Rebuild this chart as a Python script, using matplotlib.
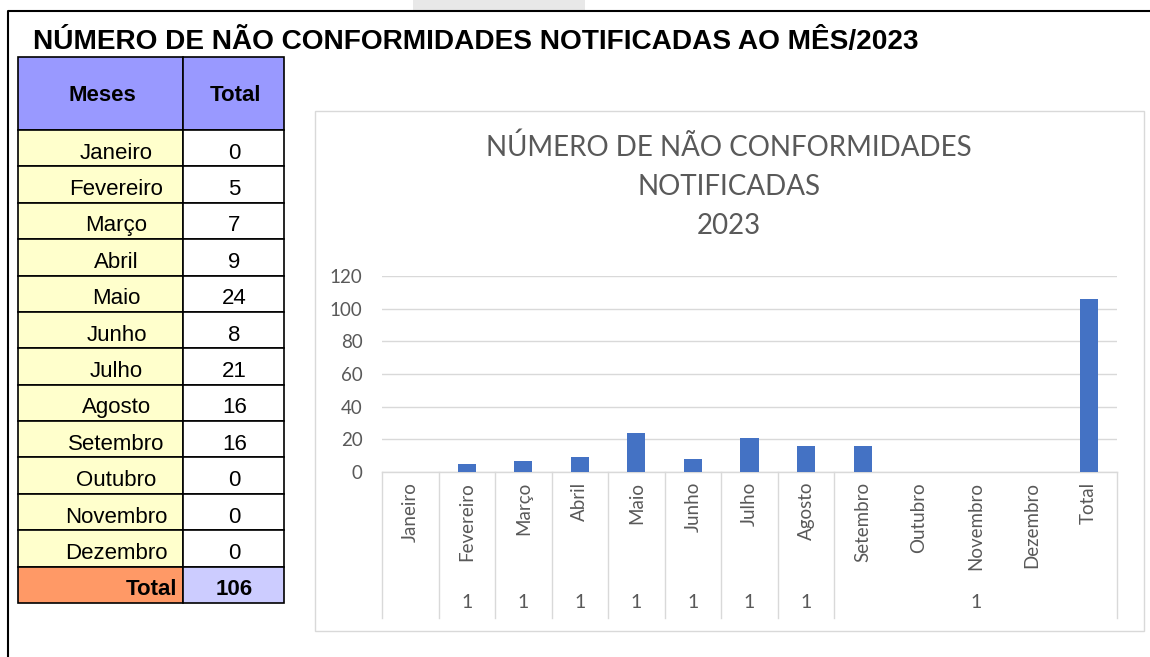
import matplotlib.pyplot as plt
from matplotlib.patches import Rectangle

# dados
meses = ["Janeiro", "Fevereiro", "Março", "Abril", "Maio", "Junho", "Julho",
         "Agosto", "Setembro", "Outubro", "Novembro", "Dezembro"]
totais = [0, 5, 7, 9, 24, 8, 21, 16, 16, 0, 0, 0]
total_geral = 106
categorias = meses + ["Total"]
valores = totais + [total_geral]
# rótulos do segundo nível do eixo (grupo, primeira categoria, última categoria)
grupos = [("", 0, 0), ("1", 1, 1), ("1", 2, 2), ("1", 3, 3), ("1", 4, 4),
          ("1", 5, 5), ("1", 6, 6), ("1", 7, 7), ("1", 8, 12)]
yticks = [0, 20, 40, 60, 80, 100, 120]

W, H = 1150, 657
fig = plt.figure(figsize=(W / 100, H / 100), dpi=100)

# fundo em coordenadas de pixel
bg = fig.add_axes([0, 0, 1, 1])
bg.set_xlim(0, W)
bg.set_ylim(H, 0)
bg.axis("off")

bg.add_patch(Rectangle((413, 0), 172, 11, color="#E8E8E8", lw=0))
bg.plot([8, 8, W], [H, 11, 11], color="black", lw=1.5)

bg.text(33, 42, "NÚMERO DE NÃO CONFORMIDADES NOTIFICADAS AO MÊS/2023",
        family="Liberation Sans", weight="bold", fontsize=20.2, va="center")

# tabela
x0, x1, x2 = 18, 183, 284
hy0, hy1 = 57, 130
rh = (603 - 130) / 13
fs = 16
bg.add_patch(Rectangle((x0, hy0), x1 - x0, hy1 - hy0, fc="#9999FF", ec="black", lw=1.2))
bg.add_patch(Rectangle((x1, hy0), x2 - x1, hy1 - hy0, fc="#9999FF", ec="black", lw=1.2))
bg.text((x0 + x1) / 2 + 2, (hy0 + hy1) / 2 + 2, "Meses", family="Liberation Sans",
        weight="bold", fontsize=fs, ha="center", va="center")
bg.text((x1 + x2) / 2 + 2, (hy0 + hy1) / 2 + 2, "Total", family="Liberation Sans",
        weight="bold", fontsize=fs, ha="center", va="center")

for i, (m, v) in enumerate(zip(meses, totais)):
    y = hy1 + i * rh
    bg.add_patch(Rectangle((x0, y), x1 - x0, rh, fc="#FFFFCC", ec="black", lw=1.2))
    bg.add_patch(Rectangle((x1, y), x2 - x1, rh, fc="white", ec="black", lw=1.2))
    bg.text((x0 + x1) / 2 + 16, y + rh / 2 + 5, m, family="Liberation Sans",
            fontsize=fs, ha="center", va="center")
    bg.text((x1 + x2) / 2 + 1, y + rh / 2 + 5, str(v), family="Liberation Sans",
            fontsize=fs, ha="center", va="center")

y = hy1 + 12 * rh
bg.add_patch(Rectangle((x0, y), x1 - x0, rh, fc="#FF9966", ec="black", lw=1.2))
bg.add_patch(Rectangle((x1, y), x2 - x1, rh, fc="#CCCCFF", ec="black", lw=1.2))
bg.text(x1 - 6, y + rh / 2 + 5, "Total", family="Liberation Sans", weight="bold",
        fontsize=fs, ha="right", va="center")
bg.text((x1 + x2) / 2 + 1, y + rh / 2 + 5, str(total_geral), family="Liberation Sans",
        weight="bold", fontsize=fs, ha="center", va="center")

# moldura do gráfico
bg.add_patch(Rectangle((315, 111), 1144 - 315, 631 - 111, fc="white", ec="#D9D9D9", lw=1))
cinza = "#595959"
for yy, t in [(147, "NÚMERO DE NÃO CONFORMIDADES"), (187, "NOTIFICADAS"), (226, "2023")]:
    bg.text(729, yy, t, family="Lato", fontsize=20, color=cinza, ha="center", va="center")

# área de plotagem
pl, pr, pt, pb = 382, 1117, 276, 472
ax = fig.add_axes([pl / W, 1 - pb / H, (pr - pl) / W, (pb - pt) / H])
n = len(categorias)
ax.bar(range(n), valores, width=0.32, color="#4472C4", zorder=3)
ax.set_xlim(-0.5, n - 0.5)
ax.set_ylim(0, 120)
ax.set_yticks(yticks)
ax.yaxis.grid(True, color="#D9D9D9", lw=1)
ax.set_axisbelow(True)
for s in ax.spines.values():
    s.set_visible(False)
ax.tick_params(axis="y", length=0, pad=14, labelsize=13.5, labelcolor=cinza)
for lab in ax.get_yticklabels():
    lab.set_family("Lato")
ax.set_xticks([])
ax.patch.set_alpha(0)

# eixo de categorias em dois níveis
sep = "#D9D9D9"
bg.plot([pl, pr], [pb, pb], color=sep, lw=1)
for k in range(n):
    xc = pl + (k + 0.5) * (pr - pl) / n
    bg.text(xc, pb + 10, categorias[k], family="Lato", fontsize=13.5, color=cinza,
            rotation=90, ha="center", va="top")
bottom = 618
for nome, a, b in grupos:
    xa = pl + a * (pr - pl) / n
    xb = pl + (b + 1) * (pr - pl) / n
    bg.plot([xa, xa], [pb, bottom], color=sep, lw=1)
    if nome:
        bg.text((xa + xb) / 2, 603, nome, family="Lato", fontsize=14, color=cinza,
                ha="center", va="center")
bg.plot([pr, pr], [pb, bottom], color=sep, lw=1)

fig.savefig("out.png", dpi=100)
